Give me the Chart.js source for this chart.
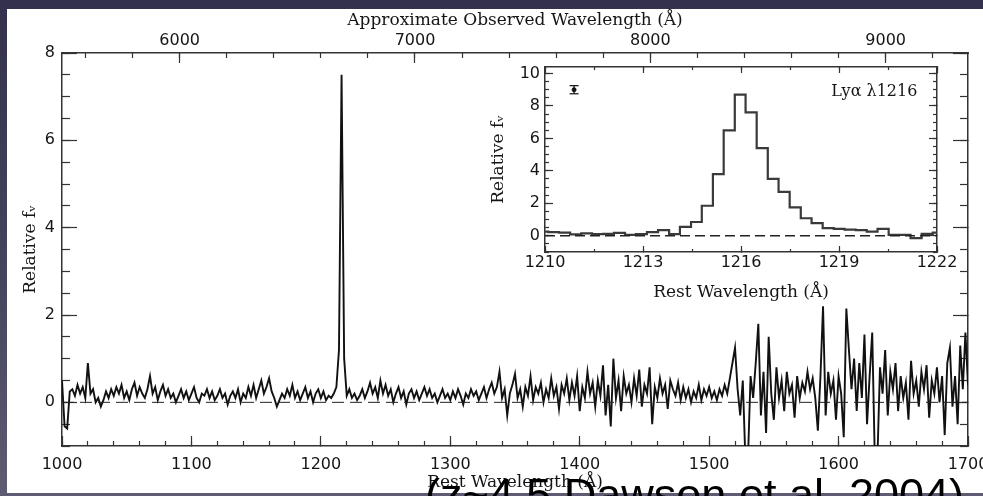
<!DOCTYPE html>
<html>
<head>
<meta charset="utf-8">
<script src="https://cdn.jsdelivr.net/npm/chart.js@4.4.1/dist/chart.umd.min.js"></script>
<style>
    html, body { margin: 0; padding: 0; }
    body {
        width: 983px; height: 496px; overflow: hidden; position: relative;
        background: linear-gradient(to bottom, #33314c 0%, #45445e 55%, #5d5c72 100%);
    }
    #sheet { position: absolute; left: 7px; top: 9px; width: 976px; height: 484px; background: #fff; }
    #mainChart { position: absolute; left: 0; top: 0; }
    #insetChart { position: absolute; left: 480px; top: 60px; }
    #credit {
        position: absolute; left: 425px; top: 472px; white-space: nowrap;
        font: 45px "Liberation Sans", Arial, sans-serif; line-height: 45px; color: #000;
    }
</style>
</head>
<body>
<div id="sheet"></div>
<canvas id="mainChart" width="983" height="496"></canvas>
<canvas id="insetChart" width="490" height="245"></canvas>
<div id="credit">(z~4.5 Dawson et al. 2004)</div>
<script>
"use strict";

// Full spectrum: rest wavelength grid (start, step in Angstrom) and relative f_nu
const waveStart = 1000;
const waveStep = 2;
const relFlux = [
    0.5, -0.55, -0.6, 0.25, 0.3, 0.15, 0.4, 0.2, 0.35, 0.1,        // 1000
    0.9, 0.2, 0.3, 0.0, 0.1, -0.1, 0.05, 0.25, 0.1, 0.3,           // 1020
    0.15, 0.35, 0.2, 0.4, 0.1, 0.25, 0.05, 0.3, 0.45, 0.15,        // 1040
    0.35, 0.2, 0.1, 0.3, 0.6, 0.2, 0.35, 0.05, 0.25, 0.4,          // 1060
    0.15, 0.3, 0.1, 0.2, 0.0, 0.15, 0.3, 0.1, 0.25, 0.05,          // 1080
    0.2, 0.35, 0.1, 0.0, 0.2, 0.15, 0.3, 0.1, 0.25, 0.05,          // 1100
    0.15, 0.3, 0.1, 0.2, -0.05, 0.15, 0.25, 0.1, 0.3, 0.0,         // 1120
    0.2, 0.1, 0.35, 0.15, 0.4, 0.1, 0.3, 0.5, 0.2, 0.35,           // 1140
    0.55, 0.25, 0.1, -0.1, 0.05, 0.2, 0.1, 0.3, 0.15, 0.4,         // 1160
    0.1, 0.25, 0.05, 0.2, 0.35, 0.1, 0.25, 0.0, 0.2, 0.3,          // 1180
    0.1, 0.25, 0.05, 0.15, 0.1, 0.2, 0.35, 1.2, 7.5, 1.0,          // 1200
    0.15, 0.3, 0.1, 0.2, 0.05, 0.15, 0.3, 0.1, 0.25, 0.45,         // 1220
    0.2, 0.35, 0.1, 0.5, 0.2, 0.4, 0.15, 0.3, 0.0, 0.2,            // 1240
    0.35, 0.1, 0.25, -0.05, 0.2, 0.3, 0.1, 0.25, 0.05, 0.2,        // 1260
    0.35, 0.15, 0.3, 0.1, 0.2, 0.0, 0.15, 0.3, 0.1, 0.2,           // 1280
    0.05, 0.25, 0.1, 0.3, 0.15, -0.05, 0.2, 0.1, 0.3, 0.15,        // 1300
    0.25, 0.05, 0.2, 0.35, 0.1, 0.3, 0.45, 0.2, 0.35, 0.7,         // 1320
    0.1, 0.3, -0.3, 0.2, 0.4, 0.65, 0.1, 0.3, -0.1, 0.35,          // 1340
    0.15, 0.6, 0.05, 0.35, 0.2, 0.45, 0.0, 0.3, 0.1, 0.55,         // 1360
    0.15, 0.35, -0.15, 0.4, 0.2, 0.55, 0.05, 0.45, 0.15, 0.6,      // 1380
    -0.2, 0.35, 0.1, 0.7, 0.2, 0.45, -0.1, 0.5, 0.15, 0.85,        // 1400
    -0.3, 0.4, -0.55, 1.0, 0.1, 0.5, -0.2, 0.6, 0.2, 0.4,          // 1420
    0.0, 0.55, 0.15, 0.75, -0.1, 0.4, 0.2, 0.8, -0.5, 0.35,        // 1440
    0.1, 0.55, 0.2, 0.4, -0.15, 0.5, 0.3, 0.15, 0.45, 0.05,        // 1460
    0.35, 0.1, 0.3, 0.0, 0.25, 0.1, 0.4, 0.05, 0.3, 0.15,          // 1480
    0.35, 0.1, 0.25, 0.05, 0.3, 0.15, 0.4, 0.2, 0.55, 0.9,         // 1500
    1.25, 0.3, -0.3, 0.5, -1.3, -1.3, 0.6, 0.1, 0.9, 1.8,          // 1520
    -0.3, 0.7, -0.7, 1.5, 0.2, -0.4, 0.8, 0.1, 0.5, -0.2,          // 1540
    0.7, 0.2, 0.4, -0.35, 0.6, 0.1, 0.45, 0.25, 0.7, 0.3,          // 1560
    0.55, 0.1, -0.65, 0.6, 2.2, -0.3, 0.7, 0.2, 0.5, -0.4,         // 1580
    0.6, 0.2, -0.8, 2.15, 1.2, 0.3, 1.0, -0.2, 0.9, 0.1,           // 1600
    1.55, -0.5, 0.6, 1.6, -1.3, -1.3, 0.8, 0.2, 1.2, -0.3,         // 1620
    0.7, 0.3, 0.9, -0.2, 0.6, 0.1, 0.45, -0.4, 0.95, 0.2,          // 1640
    0.5, -0.1, 0.7, 0.3, 0.85, -0.35, 0.5, 0.2, 0.8, 0.0,          // 1660
    0.6, -0.75, 0.9, 1.25, -0.1, 0.6, -0.5, 1.3, 0.3, 1.6,         // 1680
    0.4                                                            // 1700
];

// Approximate redshift factor (1 + z) and the labelled ticks of the top axis
const onePlusZ = 5.5;
const obsTickLabels = [6000, 7000, 8000, 9000];

// Inset: Lya profile, bin edges (Angstrom) and relative f_nu per bin
const lyaEdges = [
    1209.76, 1210.10, 1210.43, 1210.77, 1211.11, 1211.44, 1211.78, 1212.11, 1212.45, 1212.78,
    1213.12, 1213.46, 1213.80, 1214.13, 1214.47, 1214.80, 1215.14, 1215.47, 1215.81, 1216.14,
    1216.48, 1216.82, 1217.15, 1217.49, 1217.83, 1218.16, 1218.50, 1218.84, 1219.17, 1219.51,
    1219.85, 1220.18, 1220.52, 1220.86, 1221.19, 1221.53, 1221.87, 1222.20
];
const lyaFlux = [
    0.25, 0.22, 0.2, 0.08, 0.15, 0.1, 0.12, 0.18, 0.05, 0.1,
    0.22, 0.35, 0.1, 0.55, 0.85, 1.85, 3.8, 6.5, 8.7, 7.6,
    5.4, 3.5, 2.7, 1.75, 1.08, 0.78, 0.47, 0.42, 0.38, 0.35,
    0.25, 0.42, 0.05, 0.05, -0.15, 0.12, 0.2
];

// Typical error bar shown in the inset: wavelength, value, +/- error
const errWave = 1210.89;
const errValue = 9.0;
const errSize = 0.25;

const LINE_NAME = 'Ly\u03b1 \u03bb1216';

const tickFont = {family: '"DejaVu Sans", sans-serif', size: 16};
const titleFont = {family: '"DejaVu Serif", serif', size: 17};
const INK = '#151515';
const FRAME = '#333';

/**
 * Force an axis box to a fixed size so the plot frame lands where the original has it.
 */
const fixBox = (size) => (scale) => {
    if (scale.isHorizontal()) {
        scale.height = size;
    } else {
        scale.width = size;
    }
    scale.paddingLeft = scale.paddingRight = scale.paddingTop = scale.paddingBottom = 0;
};

/**
 * Axis with inward tick marks. Major axes carry the frame line, minor ones only ticks.
 */
const makeAxis = (o) => ({
    type: 'linear',
    axis: o.axis,
    position: o.position,
    weight: o.major ? 1 : 0,
    min: o.min,
    max: o.max,
    afterFit: fixBox(o.size || 0),
    afterBuildTicks: o.tickValues ? (scale) => {
        scale.ticks = o.tickValues.map(v => ({value: v}));
    } : undefined,
    ticks: {
        stepSize: o.step,
        autoSkip: false,
        includeBounds: false,
        maxRotation: 0,
        display: !!o.labels,
        font: tickFont,
        color: INK,
        padding: o.pad || 0,
        callback: (v) => String(v),
    },
    grid: {
        drawOnChartArea: false,
        tickLength: -o.tick,
        tickColor: FRAME,
        tickWidth: 1.2,
    },
    border: {
        display: !!o.major,
        color: FRAME,
        width: 1.5,
    },
    title: o.title ? {
        display: true,
        text: o.title,
        font: titleFont,
        color: INK,
        padding: o.titlePad,
    } : {display: false},
});

const flat = {
    pointRadius: 0,
    tension: 0,
    fill: false,
};

// ---------- main spectrum ----------
const spectrum = relFlux.map((v, i) => ({x: waveStart + i * waveStep, y: v}));
const mainMin = waveStart;
const mainMax = waveStart + (relFlux.length - 1) * waveStep;

new Chart(document.getElementById('mainChart'), {
    type: 'line',
    data: {
        datasets: [
            {...flat, data: [{x: mainMin, y: 0}, {x: mainMax, y: 0}],
                borderColor: '#222', borderWidth: 1, borderDash: [12, 6]},
            {...flat, data: spectrum, borderColor: '#111', borderWidth: 1.9},
        ]
    },
    options: {
        responsive: false,
        animation: false,
        events: [],
        layout: {padding: 0, autoPadding: false},
        plugins: {legend: {display: false}, tooltip: {enabled: false}},
        scales: {
            x: makeAxis({axis: 'x', position: 'bottom', major: true, min: mainMin, max: mainMax,
                step: 100, tick: 10, labels: true, pad: 19, size: 50,
                title: 'Rest Wavelength (\u00c5)', titlePad: {top: 0, bottom: 3}}),
            xMinor: makeAxis({axis: 'x', position: 'bottom', min: mainMin, max: mainMax, step: 20, tick: 5}),
            obs: makeAxis({axis: 'x', position: 'top', major: true, min: mainMin * onePlusZ,
                max: mainMax * onePlusZ, tickValues: obsTickLabels, tick: 10, labels: true, pad: 13, size: 53,
                title: 'Approximate Observed Wavelength (\u00c5)', titlePad: {top: 10, bottom: 0}}),
            obsMinor: makeAxis({axis: 'x', position: 'top', min: mainMin * onePlusZ,
                max: mainMax * onePlusZ, step: 200, tick: 5}),
            y: makeAxis({axis: 'y', position: 'left', major: true, min: -1, max: 8, step: 2,
                tick: 15, labels: true, pad: 22, size: 62,
                title: 'Relative f\u1d65', titlePad: {top: 20, bottom: 0}}),
            yMinor: makeAxis({axis: 'y', position: 'left', min: -1, max: 8, step: 0.5, tick: 8}),
            yRight: makeAxis({axis: 'y', position: 'right', major: true, min: -1, max: 8, step: 2,
                tick: 15, size: 15}),
            yRightMinor: makeAxis({axis: 'y', position: 'right', min: -1, max: 8, step: 0.5, tick: 8}),
        }
    }
});

// ---------- Lya inset ----------
const lyaSteps = lyaEdges.map((w, i) => ({x: w, y: lyaFlux[Math.min(i, lyaFlux.length - 1)]}));

const lineLabel = {
    id: 'lineLabel',
    afterDatasetsDraw(chart) {
        const {ctx, scales} = chart;
        ctx.save();
        ctx.font = '16px "DejaVu Serif", serif';
        ctx.fillStyle = INK;
        ctx.textAlign = 'right';
        ctx.textBaseline = 'middle';
        ctx.fillText(LINE_NAME, scales.x.getPixelForValue(1221.4), scales.y.getPixelForValue(8.85));
        ctx.restore();
    }
};

new Chart(document.getElementById('insetChart'), {
    type: 'line',
    data: {
        datasets: [
            {...flat, data: [{x: 1210, y: 0}, {x: 1222, y: 0}],
                borderColor: '#222', borderWidth: 1.3, borderDash: [10, 5]},
            {...flat, data: lyaSteps, stepped: true, borderColor: '#3a3a3a', borderWidth: 2.2},
            {...flat, data: [{x: errWave, y: errValue - errSize}, {x: errWave, y: errValue + errSize}],
                borderColor: '#111', borderWidth: 1.2},
            {type: 'scatter', data: [{x: errWave, y: errValue - errSize}, {x: errWave, y: errValue + errSize}],
                pointStyle: 'line', pointRadius: 4.5, borderColor: '#111', borderWidth: 1.2},
            {type: 'scatter', data: [{x: errWave, y: errValue}],
                pointStyle: 'circle', pointRadius: 2, backgroundColor: '#111', borderColor: '#111'},
        ]
    },
    options: {
        responsive: false,
        animation: false,
        events: [],
        layout: {padding: 0, autoPadding: false},
        plugins: {legend: {display: false}, tooltip: {enabled: false}},
        scales: {
            x: makeAxis({axis: 'x', position: 'bottom', major: true, min: 1210, max: 1222,
                step: 3, tick: 6, labels: true, pad: 7, size: 53,
                title: 'Rest Wavelength (\u00c5)', titlePad: {top: 0, bottom: 2}}),
            xMinor: makeAxis({axis: 'x', position: 'bottom', min: 1210, max: 1222, step: 1.5, tick: 3}),
            xTop: makeAxis({axis: 'x', position: 'top', major: true, min: 1210, max: 1222,
                step: 3, tick: 6, size: 7}),
            xTopMinor: makeAxis({axis: 'x', position: 'top', min: 1210, max: 1222, step: 1.5, tick: 3}),
            y: makeAxis({axis: 'y', position: 'left', major: true, min: -1, max: 10.4, step: 2,
                tick: 8, labels: true, pad: 13, size: 65,
                title: 'Relative f\u1d65', titlePad: {top: 8, bottom: 0}}),
            yMinor: makeAxis({axis: 'y', position: 'left', min: -1, max: 10.4, step: 0.5, tick: 4}),
            yRight: makeAxis({axis: 'y', position: 'right', major: true, min: -1, max: 10.4, step: 2,
                tick: 8, size: 33}),
            yRightMinor: makeAxis({axis: 'y', position: 'right', min: -1, max: 10.4, step: 0.5, tick: 4}),
        }
    },
    plugins: [lineLabel]
});
</script>
</body>
</html>
